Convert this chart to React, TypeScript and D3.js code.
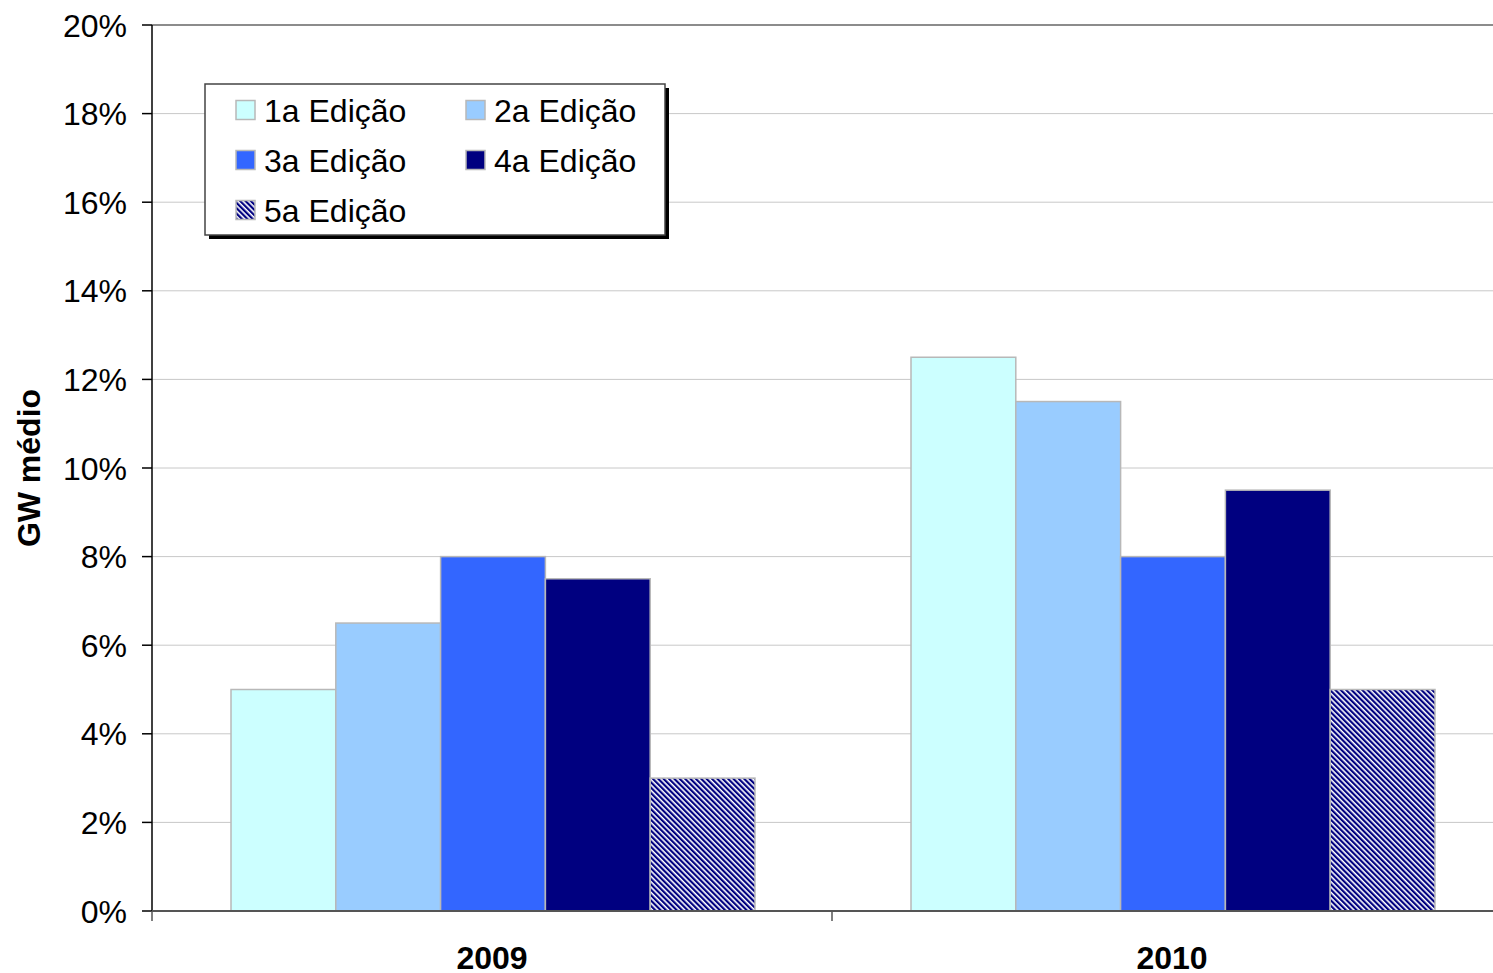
import React from "react";
import * as d3 from "d3";

const categories = ["2009", "2010"];
const seriesNames = ["1a Edição", "2a Edição", "3a Edição", "4a Edição", "5a Edição"];
const values2009 = [5, 6.5, 8, 7.5, 3];
const values2010 = [12.5, 11.5, 8, 9.5, 5];
const yTicks = [0, 2, 4, 6, 8, 10, 12, 14, 16, 18, 20];
const colors = ["#CCFFFF", "#99CCFF", "#3366FF", "#000080", "url(#hatch)"];

const W = 1493;
const H = 973;
const left = 152;
const top = 25;
const bottom = 911;
const catWidth = 680;

export default function App() {
  const data = [values2009, values2010];
  const x0 = d3.scaleBand<string>().domain(categories).range([left, left + catWidth * 2]).paddingInner(0).paddingOuter(0);
  const x1 = d3
    .scaleBand<string>()
    .domain(seriesNames)
    .range([79, catWidth - 77])
    .padding(0);
  const y = d3.scaleLinear().domain([0, 20]).range([bottom, top]);
  const font = "'Liberation Sans', Arial, sans-serif";

  return (
    <svg width={W} height={H} style={{ position: "absolute", left: 0, top: 0 }} fontFamily={font}>
      <defs>
        <pattern id="hatch" patternUnits="userSpaceOnUse" width="3.8" height="3.8" patternTransform="rotate(-45)">
          <rect x="0" y="0" width="3.8" height="3.8" fill="#ffffff" />
          <rect x="0" y="0" width="2.2" height="3.8" fill="#000080" />
        </pattern>
      </defs>
      {/* gridlines */}
      {yTicks.map((t) => (
        <line
          key={"g" + t}
          x1={left}
          x2={W}
          y1={y(t)}
          y2={y(t)}
          stroke={t === 20 ? "#8c8c8c" : "#c8c8c8"}
          strokeWidth={t === 20 ? 2 : 1}
        />
      ))}
      {/* bars */}
      {categories.map((c, ci) => (
        <g key={c} transform={`translate(${x0(c)},0)`}>
          {seriesNames.map((s, si) => {
            const v = data[ci][si];
            return (
              <rect
                key={s}
                x={x1(s)!}
                y={y(v)}
                width={x1.bandwidth()}
                height={y(0) - y(v)}
                fill={colors[si]}
                stroke="#b8b8b8"
                strokeWidth={1.5}
              />
            );
          })}
        </g>
      ))}
      {/* y axis */}
      <line x1={left} x2={left} y1={top} y2={bottom} stroke="#000" strokeWidth={1.5} />
      {yTicks.map((t) => (
        <g key={"t" + t}>
          <line x1={left - 10} x2={left} y1={y(t)} y2={y(t)} stroke="#000" strokeWidth={1.5} />
          <text x={127} y={y(t)} dy="0.36em" textAnchor="end" fontSize={32} fill="#000">
            {t}%
          </text>
        </g>
      ))}
      {/* x axis */}
      <line x1={left} x2={W} y1={bottom} y2={bottom} stroke="#555" strokeWidth={2} />
      {[0, 1, 2].map((i) => (
        <line
          key={"xt" + i}
          x1={left + i * x0.bandwidth()}
          x2={left + i * x0.bandwidth()}
          y1={bottom}
          y2={bottom + 10}
          stroke="#555"
          strokeWidth={1.5}
        />
      ))}
      {categories.map((c) => (
        <text
          key={"xl" + c}
          x={x0(c)! + x0.bandwidth() / 2}
          y={969}
          textAnchor="middle"
          fontSize={32}
          fontWeight="bold"
        >
          {c}
        </text>
      ))}
      {/* y title */}
      <text
        transform={`translate(40,468) rotate(-90)`}
        textAnchor="middle"
        fontSize={32}
        fontWeight="bold"
      >
        GW médio
      </text>
      {/* legend */}
      <rect x={209} y={88} width={460} height={151} fill="#000" />
      <rect x={205} y={84} width={460} height={151} fill="#fff" stroke="#444" strokeWidth={1.5} />
      {seriesNames.map((s, i) => {
        const col = i % 2;
        const row = Math.floor(i / 2);
        const sx = 236 + col * 230;
        const cy = 110 + row * 50;
        return (
          <g key={"lg" + s}>
            <rect x={sx} y={cy - 9.5} width={19} height={19} fill={colors[i]} stroke="#b8b8b8" strokeWidth={1.5} />
            <text x={sx + 28} y={cy} dy="0.36em" fontSize={32}>
              {s}
            </text>
          </g>
        );
      })}
    </svg>
  );
}
